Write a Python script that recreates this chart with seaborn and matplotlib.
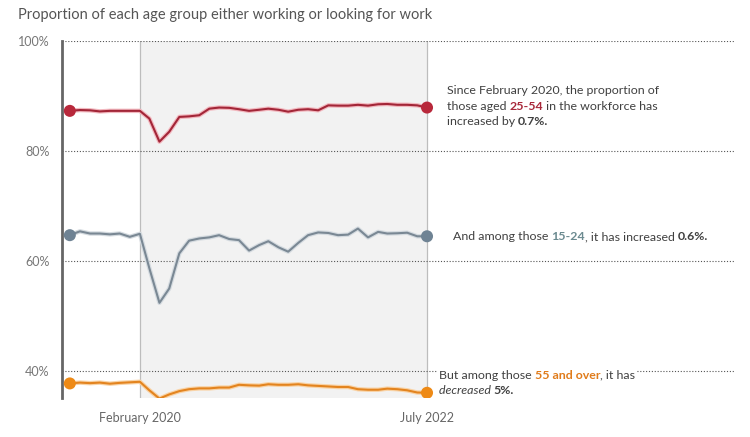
import matplotlib
import matplotlib.pyplot as plt
import matplotlib.patheffects as pe
import pandas as pd
import seaborn as sns
from matplotlib.offsetbox import AnnotationBbox, HPacker, TextArea, VPacker

matplotlib.use("Agg")

# Monthly participation rates, July 2019 to July 2022
months = pd.date_range("2019-07-01", "2022-07-01", freq="MS")

prime_age = [
    87.3, 87.45, 87.4, 87.2, 87.3, 87.3,
    87.3, 87.3, 85.9, 81.7, 83.5, 86.2, 86.3, 86.5, 87.7, 87.9, 87.85, 87.6,
    87.3, 87.5, 87.7, 87.5, 87.15, 87.5, 87.6, 87.4, 88.3, 88.25, 88.25, 88.4,
    88.25, 88.5, 88.55, 88.4, 88.4, 88.3, 87.9,
]
youth = [
    64.7, 65.4, 65.0, 65.0, 64.85, 65.0,
    64.4, 64.95, 58.7, 52.4, 55.0, 61.4, 63.7, 64.1, 64.3, 64.7, 64.0, 63.8,
    61.9, 62.9, 63.6, 62.5, 61.7, 63.3, 64.7, 65.2, 65.1, 64.7, 64.8, 65.9,
    64.3, 65.3, 65.0, 65.05, 65.15, 64.5, 64.5,
]
older = [
    37.75, 37.9, 37.8, 37.9, 37.7, 37.85,
    37.95, 38.05, 36.5, 35.0, 35.75, 36.35, 36.7, 36.85, 36.85, 37.0, 37.0, 37.5,
    37.4, 37.35, 37.6, 37.5, 37.5, 37.6, 37.4, 37.3, 37.2, 37.1, 37.1, 36.7,
    36.6, 36.6, 36.8, 36.7, 36.5, 36.1, 36.05,
]

groups = ["25-54", "15-24", "55 and over"]
y_ticks = [40, 60, 80, 100]
x_tick_dates = [pd.Timestamp("2020-02-01"), pd.Timestamp("2022-07-01")]
x_tick_labels = ["February 2020", "July 2022"]

line_colors = {"25-54": "#a32638", "15-24": "#7a8894", "55 and over": "#e3841f"}
glow_colors = {"25-54": "#f2b8bf", "15-24": "#d5dbe0", "55 and over": "#f9d3a6"}
dot_colors = {"25-54": "#b8283b", "15-24": "#6f8394", "55 and over": "#ee8a16"}
label_colors = {"25-54": "#a8283a", "15-24": "#6b8a90", "55 and over": "#e07b1a"}
TEXT = "#404040"

wide = pd.DataFrame({"month": months, "25-54": prime_age,
                     "15-24": youth, "55 and over": older})
df = wide.melt(id_vars="month", var_name="group", value_name="share")

sns.set_style("white")
plt.rcParams["font.family"] = ["Lato", "DejaVu Sans"]

fig = plt.figure(figsize=(7.5, 4.37), dpi=100)
ax = fig.add_axes([62 / 750, 1 - 398 / 437, (735 - 62) / 750, (398 - 41) / 437])

# shaded pandemic period
ax.axvspan(x_tick_dates[0], x_tick_dates[1], color="#f2f2f2", zorder=0, lw=0)
for d in x_tick_dates:
    ax.axvline(d, color="#bdbdbd", lw=0.9, zorder=0.6)

sns.lineplot(data=df, x="month", y="share", hue="group", hue_order=groups,
             palette=line_colors, linewidth=1.5, legend=False, ax=ax, zorder=3)
for line, g in zip(ax.lines[len(x_tick_dates):], groups):
    line.set_path_effects([pe.Stroke(linewidth=3.2, foreground=glow_colors[g]),
                           pe.Normal()])

ends = df[df["month"].isin([months[0], months[-1]])]
sns.scatterplot(data=ends, x="month", y="share", hue="group", hue_order=groups,
                palette=dot_colors, s=75, edgecolor="none", legend=False,
                ax=ax, zorder=4)

ax.set_ylim(35.1, 100)
ax.set_xlim(pd.Timestamp("2019-06-07"), pd.Timestamp("2025-01-31"))
ax.set_yticks(y_ticks)
ax.set_yticklabels([f"{v}%" for v in y_ticks])
ax.set_xticks(x_tick_dates)
ax.set_xticklabels(x_tick_labels)
ax.set_xlabel("")
ax.set_ylabel("")

ax.yaxis.grid(True, linestyle=(0, (1, 1.6)), color="#555555", lw=0.8)
ax.set_axisbelow("line")
for side in ["top", "right", "bottom"]:
    ax.spines[side].set_visible(False)
ax.spines["left"].set_color("#666666")
ax.spines["left"].set_linewidth(2)
ax.tick_params(axis="y", direction="out", length=4, width=1.6, color="#666666",
               labelcolor="#777777", labelsize=9, pad=5)
ax.tick_params(axis="x", direction="out", length=5, width=1.6, color="#666666",
               labelcolor="#666666", labelsize=9, pad=5)

fig.text(18 / 750, 1 - 15 / 437,
         "Proportion of each age group either working or looking for work",
         fontsize=10.5, color="#555555", va="center", ha="left")


def rich_block(lines, fs=8.9):
    rows = []
    for parts in lines:
        areas = []
        for txt, style in parts:
            props = dict(color=TEXT, fontsize=fs)
            props.update(style)
            areas.append(TextArea(txt, textprops=props))
        rows.append(HPacker(children=areas, sep=0, pad=0, align="baseline"))
    return VPacker(children=rows, sep=3.2, pad=0, align="left")


bold = {"fontweight": "bold"}
blocks = [
    ([[("Since February 2020, the proportion of", {})],
      [("those aged ", {}), ("25-54", {"fontweight": "bold", "color": label_colors["25-54"]}),
       (" in the workforce has", {})],
      [("increased by ", {}), ("0.7%.", bold)]],
     (447, 437 - 106), False),
    ([[("And among those ", {}),
       ("15-24", {"fontweight": "bold", "color": label_colors["15-24"]}),
       (", it has increased ", {}), ("0.6%.", bold)]],
     (453, 437 - 237), False),
    ([[("But among those ", {}),
       ("55 and over", {"fontweight": "bold", "color": label_colors["55 and over"]}),
       (", it has", {})],
      [("decreased ", {"fontstyle": "italic"}), ("5%.", bold)]],
     (439, 437 - 383), True),
]
for lines, xy, framed in blocks:
    ab = AnnotationBbox(rich_block(lines), xy, xycoords="figure pixels",
                        box_alignment=(0, 0.5), frameon=framed, pad=0.15,
                        bboxprops=dict(facecolor="white", edgecolor="none"))
    ab.set_zorder(5)
    ax.add_artist(ab)

fig.savefig("out.png", dpi=100)
